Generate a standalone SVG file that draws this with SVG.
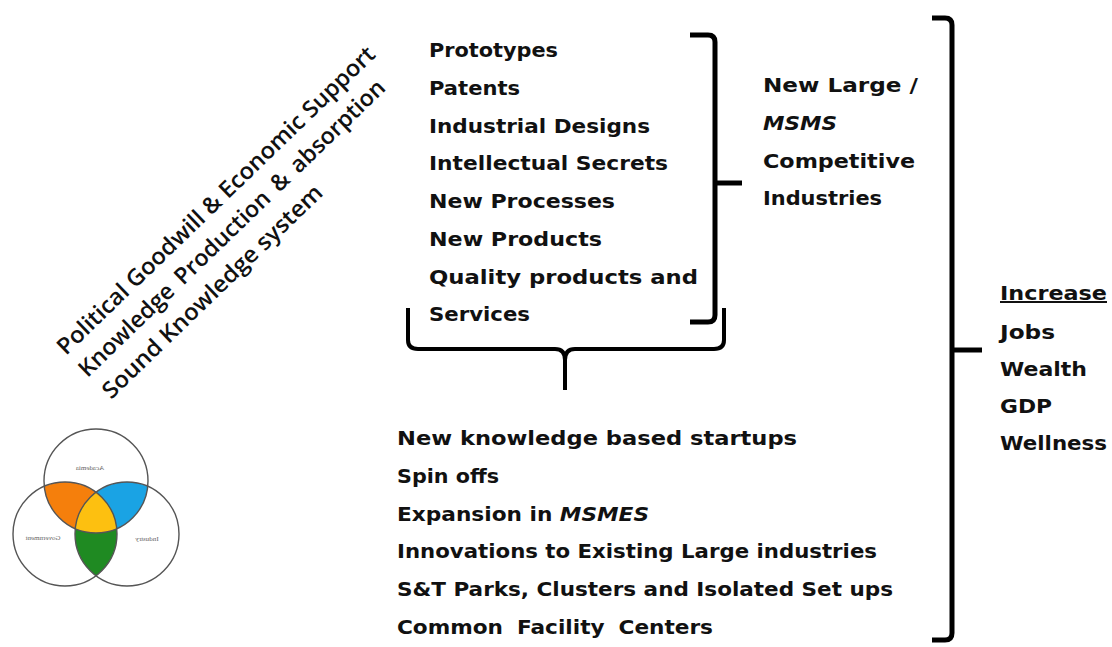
<svg xmlns="http://www.w3.org/2000/svg" width="1112" height="647" viewBox="0 0 1112 647">
  <style>
    .t { font-family: "DejaVu Sans", "Liberation Sans", sans-serif; font-weight: bold; font-size: 20px; fill: #111; }
    .rot { font-family: "Open Sans", "DejaVu Sans", sans-serif; font-weight: 600; font-size: 23px; fill: #111; }
    .br { fill: none; stroke: #000; stroke-width: 5; stroke-linecap: butt; stroke-linejoin: round; }
    .brace { fill: none; stroke: #000; stroke-width: 4; stroke-linejoin: round; }
    .ring { fill: none; stroke: #555; stroke-width: 1.4; }
    .vl { font-family: "Liberation Serif", serif; font-size: 7px; fill: #666; }
  </style>
  <defs>
    <clipPath id="cA"><circle cx="96" cy="481" r="52"/></clipPath>
    <clipPath id="cG"><circle cx="65" cy="534" r="52"/></clipPath>
    <clipPath id="cI"><circle cx="127" cy="534" r="52"/></clipPath>
  </defs>
  <rect width="1112" height="647" fill="#fff"/>

  <!-- diagonal heading -->
  <g id="foundations" transform="translate(66,356) rotate(-44)">
    <text class="rot" x="0" y="0" textLength="432" lengthAdjust="spacingAndGlyphs">Political Goodwill &amp; Economic Support</text>
    <text class="rot" x="0" y="31" textLength="416" lengthAdjust="spacingAndGlyphs" word-spacing="4">Knowledge Production &amp; absorption</text>
    <text class="rot" x="2" y="63" textLength="296" lengthAdjust="spacingAndGlyphs">Sound Knowledge system</text>
  </g>

  <!-- triple helix venn -->
  <g id="venn">
    <circle cx="96" cy="481" r="52" fill="#f57f0c" clip-path="url(#cG)"/>
    <circle cx="96" cy="481" r="52" fill="#1aa3e4" clip-path="url(#cI)"/>
    <circle cx="65" cy="534" r="52" fill="#1f8a22" clip-path="url(#cI)"/>
    <g clip-path="url(#cG)">
      <circle cx="96" cy="481" r="52" fill="#fdc010" clip-path="url(#cI)"/>
    </g>
    <circle class="ring" cx="96" cy="481" r="52"/>
    <circle class="ring" cx="65" cy="534" r="52"/>
    <circle class="ring" cx="127" cy="534" r="52"/>
    <text class="vl" text-anchor="middle" transform="translate(90,470) scale(-1,1)">Academia</text>
    <text class="vl" text-anchor="middle" transform="translate(43,540) scale(-1,1)">Government</text>
    <text class="vl" text-anchor="middle" transform="translate(147,541) scale(-1,1)">Industry</text>
  </g>

  <!-- knowledge outputs -->
  <g id="outputs">
    <text class="t" x="429" y="57" textLength="129" lengthAdjust="spacingAndGlyphs">Prototypes</text>
    <text class="t" x="429" y="95" textLength="91" lengthAdjust="spacingAndGlyphs">Patents</text>
    <text class="t" x="429" y="133" textLength="221" lengthAdjust="spacingAndGlyphs">Industrial Designs</text>
    <text class="t" x="429" y="170" textLength="239" lengthAdjust="spacingAndGlyphs">Intellectual Secrets</text>
    <text class="t" x="429" y="208" textLength="186" lengthAdjust="spacingAndGlyphs">New Processes</text>
    <text class="t" x="429" y="246" textLength="173" lengthAdjust="spacingAndGlyphs">New Products</text>
    <text class="t" x="429" y="284" textLength="269" lengthAdjust="spacingAndGlyphs">Quality products and</text>
    <text class="t" x="429" y="321" textLength="101" lengthAdjust="spacingAndGlyphs">Services</text>
  </g>

  <!-- competitive industries -->
  <g id="industries">
    <text class="t" x="763" y="92" textLength="155" lengthAdjust="spacingAndGlyphs">New Large /</text>
    <text class="t" x="763" y="130" font-style="italic" textLength="74" lengthAdjust="spacingAndGlyphs">MSMS</text>
    <text class="t" x="763" y="168" textLength="152" lengthAdjust="spacingAndGlyphs">Competitive</text>
    <text class="t" x="763" y="205" textLength="119" lengthAdjust="spacingAndGlyphs">Industries</text>
  </g>

  <!-- enterprise outcomes -->
  <g id="enterprises">
    <text class="t" x="397" y="445" textLength="400" lengthAdjust="spacingAndGlyphs">New knowledge based startups</text>
    <text class="t" x="397" y="483" textLength="102" lengthAdjust="spacingAndGlyphs">Spin offs</text>
    <text class="t" x="397" y="521" textLength="252" lengthAdjust="spacingAndGlyphs">Expansion in <tspan font-style="italic">MSMES</tspan></text>
    <text class="t" x="397" y="558" textLength="480" lengthAdjust="spacingAndGlyphs">Innovations to Existing Large industries</text>
    <text class="t" x="397" y="596" textLength="496" lengthAdjust="spacingAndGlyphs">S&amp;T Parks, Clusters and Isolated Set ups</text>
    <text class="t" x="397" y="634" textLength="316" lengthAdjust="spacingAndGlyphs" word-spacing="6">Common Facility Centers</text>
  </g>

  <!-- economic impact -->
  <g id="impact">
    <text class="t" x="1000" y="300" text-decoration="underline" textLength="107" lengthAdjust="spacingAndGlyphs">Increase</text>
    <text class="t" x="1000" y="339" textLength="55" lengthAdjust="spacingAndGlyphs">Jobs</text>
    <text class="t" x="1000" y="376" textLength="87" lengthAdjust="spacingAndGlyphs">Wealth</text>
    <text class="t" x="1000" y="413" textLength="52" lengthAdjust="spacingAndGlyphs">GDP</text>
    <text class="t" x="1000" y="450" textLength="107" lengthAdjust="spacingAndGlyphs">Wellness</text>
  </g>

  <!-- brackets -->
  <g id="connectors">
    <path class="br" d="M690 35 H708 Q715 35 715 42 V315 Q715 322 708 322 H690"/>
    <path class="br" d="M715 183 H742"/>
    <path class="brace" d="M408 308 V340 Q408 349 418 349 H555 Q565 349 565 360 V390"/>
    <path class="brace" d="M724 308 V340 Q724 349 714 349 H575 Q565 349 565 360"/>
    <path class="br" d="M932 18 H945 Q952 18 952 25 V633 Q952 640 945 640 H932"/>
    <path class="br" d="M952 350 H982"/>
  </g>
</svg>
